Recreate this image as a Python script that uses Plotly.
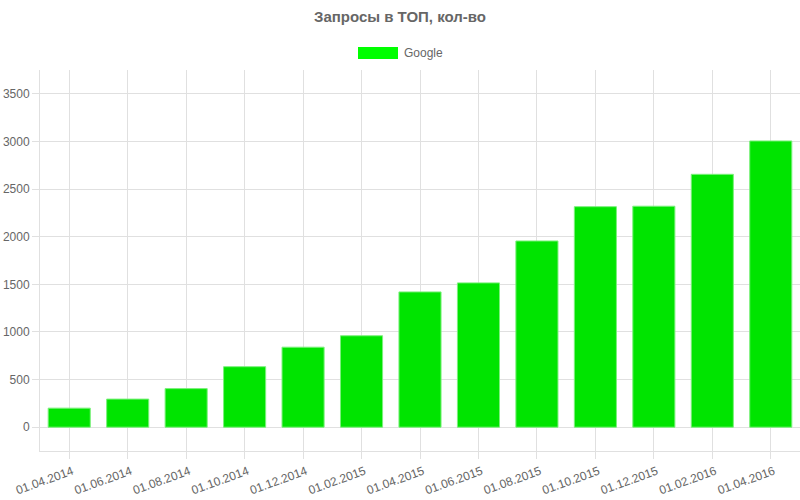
import plotly.graph_objects as go

categories = ["01.04.2014", "01.06.2014", "01.08.2014", "01.10.2014", "01.12.2014",
              "01.02.2015", "01.04.2015", "01.06.2015", "01.08.2015", "01.10.2015",
              "01.12.2015", "01.02.2016", "01.04.2016"]
google = [200, 295, 405, 635, 840, 960, 1420, 1515, 1955, 2315, 2320, 2655, 3005]
y_ticks = [0, 500, 1000, 1500, 2000, 2500, 3000, 3500]

W, H = 800, 500
L, R, T, B = 40, 800, 70, 451

def px_x(p):
    return (p - L) / (R - L)

def px_y(p):
    return (B - p) / (B - T)

FONT = "Liberation Sans, Arial, sans-serif"
GRID = "#e0e0e0"

fig = go.Figure()
fig.add_trace(go.Bar(
    x=categories, y=google, name="Google",
    marker=dict(color="#00e400", line=dict(color="#7cf07c", width=1)),
    width=0.72, showlegend=False,
))

fig.update_layout(
    width=W, height=H,
    margin=dict(l=L, r=W - R, t=T, b=H - B, autoexpand=False),
    paper_bgcolor="white", plot_bgcolor="white",
    font=dict(family=FONT, size=12, color="#666"),
    title=dict(text="<b>Запросы в ТОП, кол-во</b>", x=0.5, xanchor="center",
               y=1 - 17 / H, yanchor="middle", yref="container",
               font=dict(family=FONT, size=15, color="#666")),
    xaxis=dict(type="category", range=[-0.5, 12.5], showgrid=True, gridcolor=GRID,
               gridwidth=1, showline=True, linecolor=GRID, linewidth=1,
               ticks="outside", ticklen=7, tickcolor=GRID, tickangle=-20,
               ticklabelshift=3, ticklabelstandoff=1,
               automargin=False,
               tickfont=dict(family=FONT, size=12, color="#666")),
    yaxis=dict(range=[-250, 3750], tickvals=y_ticks, showgrid=True, gridcolor=GRID,
               gridwidth=1, zeroline=False, showline=True, linecolor=GRID, linewidth=1,
               ticks="outside", ticklen=7, tickcolor=GRID, automargin=False,
               tickfont=dict(family=FONT, size=12, color="#666")),
    shapes=[dict(type="rect", xref="paper", yref="paper",
                 x0=px_x(358), x1=px_x(398), y0=px_y(59), y1=px_y(47),
                 fillcolor="#00ff00", line=dict(width=0))],
    annotations=[dict(text="Google", xref="paper", yref="paper",
                      x=px_x(402), y=px_y(53), xanchor="left", yanchor="middle",
                      showarrow=False, font=dict(family=FONT, size=12, color="#666"))],
)

fig.write_html("out.html", config={"displayModeBar": False},
               post_script="document.body.style.margin='0';document.body.style.padding='0';")
